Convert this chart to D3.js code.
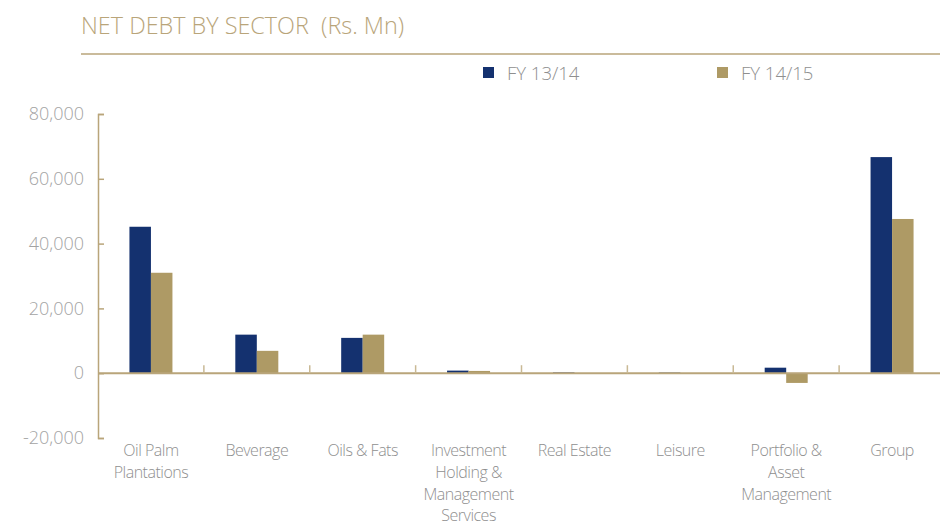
<!DOCTYPE html>
<html>
<head>
<meta charset="utf-8">
<script src="https://cdn.jsdelivr.net/npm/d3@7"></script>
<style>
  body { margin: 0; background: #fff; }
  svg { display: block; font-family: "Open Sans", sans-serif; }
</style>
</head>
<body>
<svg id="chart" width="940" height="524"></svg>
<script>
const categories = [
  ["Oil Palm", "Plantations"],
  ["Beverage"],
  ["Oils & Fats"],
  ["Investment", "Holding &", "Management", "Services"],
  ["Real Estate"],
  ["Leisure"],
  ["Portfolio &", "Asset", "Management"],
  ["Group"]
]
const series = ["FY 13/14", "FY 14/15"]
const fy1314 = [45200, 11900, 10900, 800, 250, 200, 1700, 66700]
const fy1415 = [31000, 6900, 11900, 700, 50, 50, -3000, 47600]
const yTicks = [-20000, 0, 20000, 40000, 60000, 80000]

const navy = "#14316f"
const tan = "#ae9a65"
const gold = "#b9a57a"
const grey = "#a3a3a3"

const svg = d3.select("#chart")

// title and rule
svg.append("text")
  .attr("x", 81).attr("y", 34)
  .attr("font-size", 23.4).attr("font-weight", 300)
  .attr("fill", gold)
  .attr("xml:space", "preserve")
  .text("NET DEBT BY SECTOR  (Rs. Mn)")

svg.append("line")
  .attr("x1", 81).attr("x2", 940)
  .attr("y1", 54).attr("y2", 54)
  .attr("stroke", gold).attr("stroke-width", 1.5)

// legend
const colors = d3.scaleOrdinal().domain(series).range([navy, tan])
const legendX = d3.scalePoint().domain(series).range([483, 717])
const lg = svg.append("g")
series.forEach(s => {
  const g = lg.append("g").attr("transform", `translate(${legendX(s)}, 67)`)
  g.append("rect").attr("width", 11).attr("height", 11).attr("fill", colors(s))
  g.append("text").attr("x", 24).attr("y", 13)
    .attr("font-size", 18.5).attr("font-weight", 300)
    .attr("fill", "#8f8f8f").text(s)
})

// scales
const x0 = d3.scaleBand().domain(d3.range(categories.length)).range([98, 945]).padding(0)
const x1 = d3.scaleBand().domain(series).range([0, 43])
const y = d3.scaleLinear().domain([-20000, 80000]).range([438, 114])

// y axis
const fmt = d3.format(",")
const yAxis = d3.axisRight(y).tickValues(yTicks).tickSize(6)
  .tickFormat(d => fmt(d).replace("\u2212", "-"))
const ya = svg.append("g").attr("transform", "translate(98,0)").call(yAxis)
ya.select(".domain").attr("stroke", gold).attr("stroke-width", 1.5)
ya.selectAll(".tick line").attr("stroke", gold).attr("stroke-width", 1.5)
ya.selectAll(".tick text")
  .attr("x", -14).attr("text-anchor", "end")
  .attr("font-size", 18).attr("font-weight", 300)
  .attr("fill", grey).attr("font-family", "Open Sans, sans-serif")

// bars
const rows = categories.map((c, i) => ({ i, vals: [fy1314[i], fy1415[i]] }))
const groups = svg.append("g").selectAll("g").data(rows).join("g")
  .attr("transform", d => `translate(${x0(d.i) + x0.bandwidth() / 2 - 21.5},0)`)
groups.selectAll("rect")
  .data(d => d.vals.map((v, k) => ({ s: series[k], v })))
  .join("rect")
  .attr("x", d => x1(d.s))
  .attr("width", x1.bandwidth())
  .attr("y", d => y(Math.max(0, d.v)))
  .attr("height", d => Math.abs(y(d.v) - y(0)))
  .attr("fill", d => colors(d.s))

// zero line with category ticks
const xa = svg.append("g").attr("transform", `translate(0,${y(0)})`)
xa.append("line")
  .attr("x1", 98).attr("x2", 940)
  .attr("stroke", gold).attr("stroke-width", 2)
xa.selectAll(".sep").data(d3.range(1, categories.length)).join("line")
  .attr("class", "sep")
  .attr("x1", d => x0(d)).attr("x2", d => x0(d))
  .attr("y1", 0).attr("y2", -8)
  .attr("stroke", "#c9b995").attr("stroke-width", 1.5)

// category labels
const labels = svg.append("g").selectAll("text").data(categories).join("text")
  .attr("x", (d, i) => x0(i) + x0.bandwidth() / 2)
  .attr("y", 456)
  .attr("text-anchor", "middle")
  .attr("font-size", 16).attr("font-weight", 300)
  .attr("letter-spacing", -0.5)
  .attr("fill", "#8f8f8f")
labels.selectAll("tspan").data(d => d).join("tspan")
  .attr("x", function () { return this.parentNode.getAttribute("x") })
  .attr("dy", (d, i) => i === 0 ? 0 : 21.8)
  .text(d => d)
</script>
</body>
</html>
